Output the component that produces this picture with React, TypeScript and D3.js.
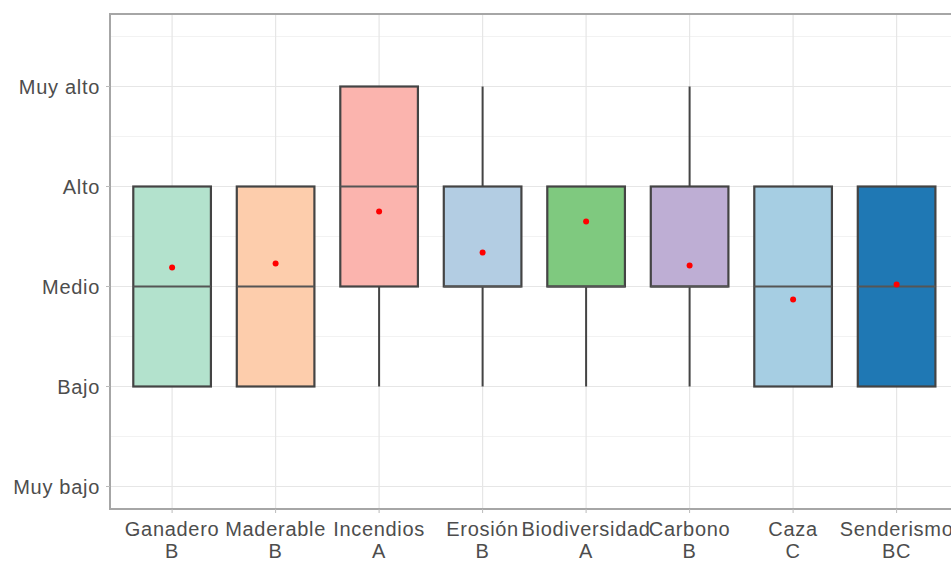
import React from "react";
import * as d3 from "d3";

const categories = ["Ganadero", "Maderable", "Incendios", "Erosión", "Biodiversidad", "Carbono", "Caza", "Senderismo"];
const groups = ["B", "B", "A", "B", "A", "B", "C", "BC"];
const q1 = [2, 2, 3, 3, 3, 3, 2, 2];
const medians = [3, 3, 4, 3, 3, 3, 3, 3];
const q3 = [4, 4, 5, 4, 4, 4, 4, 4];
const whiskLow = [2, 2, 2, 2, 2, 2, 2, 2];
const whiskHigh = [4, 4, 5, 5, 4, 5, 4, 4];
const means = [3.19, 3.23, 3.75, 3.34, 3.65, 3.21, 2.87, 3.02];
const fills = ["#b3e2cd", "#fdcdac", "#fbb4ae", "#b3cde3", "#7fc97f", "#beaed4", "#a6cee3", "#1f78b4"];
const levelLabels = ["Muy bajo", "Bajo", "Medio", "Alto", "Muy alto"];
const levelValues = [1, 2, 3, 4, 5];
const minorValues = [1.5, 2.5, 3.5, 4.5, 5.5];

export default function App() {
  const W = 951, H = 562;
  const left = 110, top = 14, bottom = 509;
  const step = 103.5;
  const right = left + step * (categories.length + 0.2);
  const x = d3.scalePoint<string>().domain(categories).range([left + 0.6 * step, right - 0.6 * step]);
  const y = d3.scaleLinear().domain([0.775, 5.725]).range([bottom, top]);
  const bw = step * 0.75;
  const txt = "#4d4d4d";
  const font = "'Liberation Sans', Arial, sans-serif";
  const fs = 20;
  const ls = 0.7;
  return (
    <div style={{ position: "absolute", left: 0, top: 0 }}>
      <svg width={W} height={H} style={{ display: "block" }}>
        <rect x={0} y={0} width={W} height={H} fill="#fff" />
        {minorValues.map((v) => (
          <line key={"mn" + v} x1={left} x2={right} y1={y(v)} y2={y(v)} stroke="#f2f2f2" strokeWidth={1} />
        ))}
        {levelValues.map((v) => (
          <line key={"mj" + v} x1={left} x2={right} y1={y(v)} y2={y(v)} stroke="#e6e6e6" strokeWidth={1.2} />
        ))}
        {categories.map((c) => (
          <line key={"vg" + c} x1={x(c)} x2={x(c)} y1={top} y2={bottom} stroke="#e6e6e6" strokeWidth={1.2} />
        ))}
        {categories.map((c, i) => {
          const cx = x(c)!;
          return (
            <g key={c}>
              {whiskHigh[i] > q3[i] && (
                <line x1={cx} x2={cx} y1={y(q3[i])} y2={y(whiskHigh[i])} stroke="#444" strokeWidth={2} />
              )}
              {whiskLow[i] < q1[i] && (
                <line x1={cx} x2={cx} y1={y(q1[i])} y2={y(whiskLow[i])} stroke="#444" strokeWidth={2} />
              )}
              <rect x={cx - bw / 2} y={y(q3[i])} width={bw} height={y(q1[i]) - y(q3[i])} fill={fills[i]} stroke="#444" strokeWidth={2.2} />
              <line x1={cx - bw / 2} x2={cx + bw / 2} y1={y(medians[i])} y2={y(medians[i])} stroke="#555" strokeWidth={2} />
              <circle cx={cx} cy={y(means[i])} r={3} fill="#ff0000" />
            </g>
          );
        })}
        <rect x={left} y={top} width={right - left} height={bottom - top} fill="none" stroke="#a6a6a6" strokeWidth={2} />
        {levelValues.map((v, i) => (
          <g key={"yt" + v}>
            <line x1={left - 4} x2={left} y1={y(v)} y2={y(v)} stroke="#bbb" strokeWidth={1} />
            <text x={left - 10} y={y(v)} dy="0.35em" textAnchor="end" fontFamily={font} fontSize={fs} letterSpacing={ls} fill={txt}>
              {levelLabels[i]}
            </text>
          </g>
        ))}
        {categories.map((c, i) => (
          <g key={"xt" + c}>
            <line x1={x(c)} x2={x(c)} y1={bottom} y2={bottom + 4} stroke="#bbb" strokeWidth={1} />
            <text x={x(c)} y={536} textAnchor="middle" fontFamily={font} fontSize={fs} letterSpacing={ls} fill={txt}>
              {c}
            </text>
            <text x={x(c)} y={558} textAnchor="middle" fontFamily={font} fontSize={fs} letterSpacing={ls} fill={txt}>
              {groups[i]}
            </text>
          </g>
        ))}
      </svg>
    </div>
  );
}
